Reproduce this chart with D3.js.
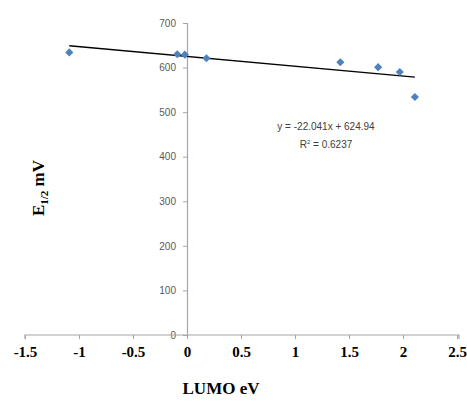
<!DOCTYPE html>
<html>
<head>
<meta charset="utf-8">
<script src="https://cdn.jsdelivr.net/npm/d3@7"></script>
<style>
  html, body { margin: 0; padding: 0; background: #fff; }
  svg { display: block; }
</style>
</head>
<body>
<svg id="chart" width="467" height="401"></svg>
<script>
// LUMO (eV) vs E1/2 (mV)
const lumo = [-1.09, -0.09, -0.02, 0.18, 1.42, 1.77, 1.97, 2.11];
const e12 = [634, 630, 629, 621, 612, 601, 590, 534];
const xTicks = [-1.5, -1, -0.5, 0, 0.5, 1, 1.5, 2, 2.5];
const yTicks = [0, 100, 200, 300, 400, 500, 600, 700];
const slope = -22.041, intercept = 624.94;
const eqText = "y = -22.041x + 624.94";
const r2Text = "0.6237";

let svg = d3.select("#chart");

let x = d3.scaleLinear().domain([-1.5, 2.5]).range([25, 457]);
let y = d3.scaleLinear().domain([0, 700]).range([335, 23]);

// y axis - sits on x = 0
let yAxis = svg.append("g")
    .attr("transform", `translate(${x(0)},0)`)
    .call(d3.axisLeft(y).tickValues(yTicks).tickSize(4).tickPadding(7));
yAxis.select(".domain").attr("stroke", "#a6a6a6").attr("stroke-width", 1.2);
yAxis.selectAll(".tick line").attr("stroke", "#a6a6a6");
yAxis.selectAll("text")
    .attr("fill", "#595959")
    .style("font-family", "'Liberation Sans Narrow', 'Liberation Sans', sans-serif")
    .style("font-size", "10px");

// x axis at y = 0
let xAxis = svg.append("g")
    .attr("transform", `translate(0,${y(0)})`)
    .call(d3.axisBottom(x).tickValues(xTicks).tickSize(4).tickPadding(7).tickFormat(d => String(d)));
xAxis.select(".domain").attr("stroke", "#a6a6a6").attr("stroke-width", 1.2)
    .attr("d", `M${x(-1.5)},4V0H${x(2.5) + 2}V4`);
xAxis.selectAll(".tick line").attr("stroke", "#a6a6a6");
xAxis.selectAll("text")
    .attr("fill", "#000")
    .style("font-family", "'Liberation Serif', 'Times New Roman', serif")
    .style("font-weight", "bold")
    .style("font-size", "15px");

// trendline
let x0 = d3.min(lumo), x1 = d3.max(lumo);
svg.append("line")
    .attr("x1", x(x0)).attr("y1", y(slope * x0 + intercept))
    .attr("x2", x(x1)).attr("y2", y(slope * x1 + intercept))
    .attr("stroke", "#000")
    .attr("stroke-width", 1.3);

// markers
let diamond = d3.symbol().type(d3.symbolDiamond2).size(42);
svg.selectAll("path.pt")
    .data(lumo.map((d, i) => [d, e12[i]]))
    .enter().append("path")
    .attr("class", "pt")
    .attr("d", diamond)
    .attr("transform", d => `translate(${x(d[0])},${y(d[1])})`)
    .attr("fill", "#4f81bd");

// equation
let eq = svg.append("g")
    .style("font-family", "'Liberation Sans Narrow', 'Liberation Sans', sans-serif")
    .style("font-size", "10px")
    .attr("fill", "#404040")
    .attr("text-anchor", "middle");
eq.append("text").attr("x", 326).attr("y", 130).text(eqText);
let r2 = eq.append("text").attr("x", 326).attr("y", 148);
r2.append("tspan").text("R");
r2.append("tspan").attr("dy", -4).style("font-size", "6px").text("2");
r2.append("tspan").attr("dy", 4).text(" = " + r2Text);

// axis titles
svg.append("text")
    .attr("x", 221).attr("y", 394)
    .attr("text-anchor", "middle")
    .style("font-family", "'Liberation Serif', 'Times New Roman', serif")
    .style("font-weight", "bold")
    .style("font-size", "17px")
    .text("LUMO eV");

let yt = svg.append("text")
    .attr("transform", "translate(44,188) rotate(-90)")
    .attr("text-anchor", "middle")
    .style("font-family", "'Liberation Serif', 'Times New Roman', serif")
    .style("font-weight", "bold")
    .style("font-size", "17px");
yt.append("tspan").text("E");
yt.append("tspan").attr("dy", 4).style("font-size", "11px").text("1/2");
yt.append("tspan").attr("dy", -4).text(" mV");
</script>
</body>
</html>
